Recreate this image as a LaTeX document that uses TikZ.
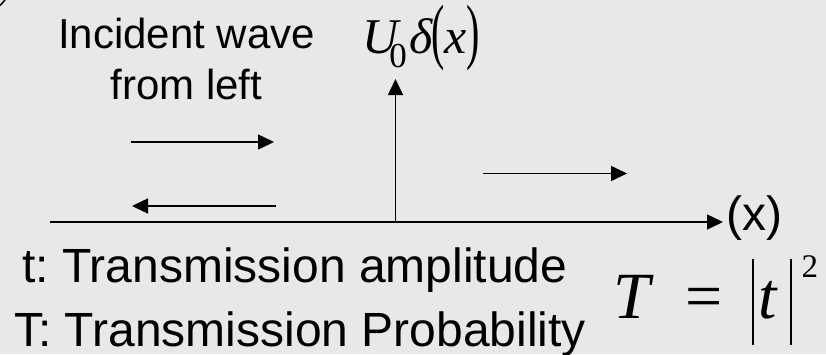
\documentclass[tikz,border=0pt]{standalone}
\usepackage{fontspec}
\setmainfont{Liberation Sans}
\newfontfamily\tnr{Liberation Serif}
\usetikzlibrary{arrows.meta}
\definecolor{bg}{HTML}{E8E8E8}
\begin{document}
\frenchspacing
\begin{tikzpicture}[x=1pt,y=-1pt,
  arr/.style={line width=1.5pt,-{Triangle[length=16pt,width=15pt]}},
  lbl/.style={inner sep=0pt,anchor=base west},
  big/.style={font=\fontsize{48}{64}\selectfont\frenchspacing}]
\fill[bg] (0,0) rectangle (826,354);
\useasboundingbox (0,0) rectangle (826,354);
\draw[line width=1.5pt] (0,5.5) -- (5,0);
% labels
\node[inner sep=0pt,anchor=base,align=center,font=\fontsize{42}{50.7}\selectfont] (inc) at (186.5,99) {Incident wave\\from left};
\node[lbl,big] (tamp) at (22,282.7) {t: Transmission amplitude};
\node[lbl,big] (tprob) at (14,346.7) {T: Transmission Probability};
\node[lbl,big] (xlab) at (726,230.5) {(x)};
\node[lbl,font=\tnr\fontsize{50}{60}\selectfont] (pot) at (362,53) {\itshape U\hspace{-9pt}\raisebox{-14pt}{\upshape\fontsize{35}{35}\selectfont 0}\hspace{3pt}δ\hspace{-2pt}\raisebox{-2pt}{\upshape\scalebox{0.8}[1.45]{(}}x\raisebox{-2pt}{\upshape\scalebox{0.8}[1.45]{)}}};
\node[lbl,font=\tnr\fontsize{66}{70}\selectfont] (teq) at (613,318) {\makebox[72pt][l]{\itshape T}\makebox[67pt][l]{=}\rule[-27pt]{2pt}{86pt}\hspace{4pt}{\itshape t}\hspace{13pt}\rule[-27pt]{2pt}{86pt}\hspace{10pt}\raisebox{41pt}{\fontsize{33}{33}\selectfont 2}};
% axis and arrows
\coordinate (axL) at (50,222);
\coordinate (axR) at (723,222);
\coordinate (orig) at (395.5,222);
\coordinate (peak) at (395.5,79);
\draw[arr] (axL) -- (axR);
\draw[arr] (orig) -- (peak);
\coordinate (inA) at (131,142);
\coordinate (inB) at (274,142);
\coordinate (reA) at (276,206);
\coordinate (reB) at (132,206);
\coordinate (trA) at (483,173.5);
\coordinate (trB) at (627,173.5);
\draw[arr] (inA) -- (inB);
\draw[arr] (reA) -- (reB);
\draw[arr] (trA) -- (trB);
\end{tikzpicture}
\end{document}
